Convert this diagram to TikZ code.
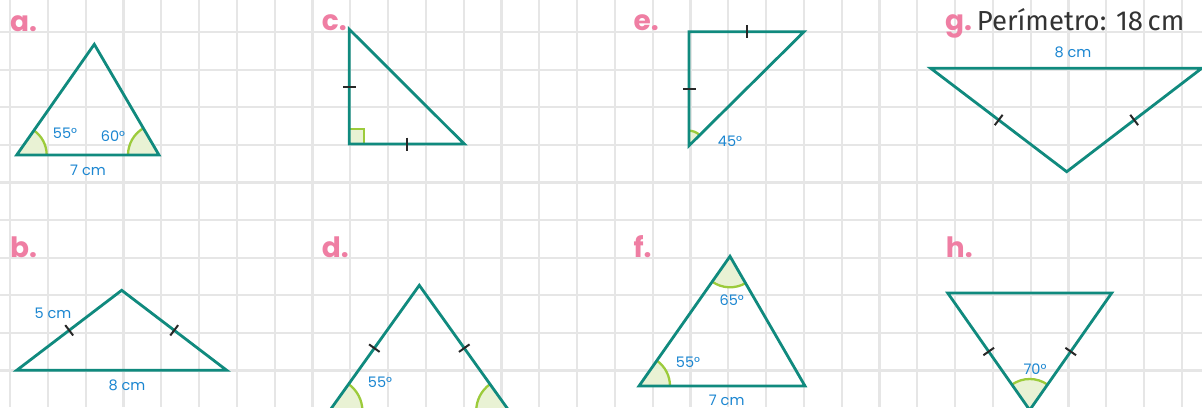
\documentclass[tikz,border=0pt]{standalone}
\usepackage{fontspec}
\setmainfont{Poppins}
\newfontfamily\perfont{Fira Sans}
\usetikzlibrary{calc,angles}
\definecolor{tealline}{RGB}{16,138,126}
\definecolor{arcgreen}{RGB}{156,203,59}
\definecolor{arcfill}{RGB}{233,242,212}
\definecolor{lblblue}{RGB}{27,134,209}
\definecolor{lblpink}{RGB}{239,126,163}
\definecolor{tickgray}{RGB}{40,40,40}
\definecolor{gridgray}{RGB}{230,230,230}
\tikzset{
  gridline/.style={draw=gridgray, line width=2.2pt},
  tri/.style={draw=tealline, line width=2.8pt},
  anglemark/.style={draw=arcgreen, fill=arcfill, line width=2.3pt},
  tickmark/.style={draw=tickgray, line width=2pt},
  meas/.style={text=lblblue, font=\fontsize{14.5}{14.5}\selectfont, inner sep=0pt},
  letter/.style={text=lblpink, font=\fontsize{28}{28}\selectfont\bfseries, inner sep=0pt, anchor=base west},
}
\newcommand\sidetick[2]{\draw[tickmark] ($(#1)!0.5!(#2)!6.5pt!90:(#2)$) -- ($(#1)!0.5!(#2)!6.5pt!-90:(#2)$);}
\begin{document}
\begin{tikzpicture}[x=1pt,y=-1pt]
\useasboundingbox (0,0) rectangle (1202,407);
\fill[white] (0,0) rectangle (1202,407);
\begin{scope}
\clip (0,0) rectangle (1202,407);
% grid
\foreach \i in {0,...,31} \draw[gridline] ({10+37.8*\i},0) -- ({10+37.8*\i},407);
\foreach \j in {0,...,9} \draw[gridline] (0,{32+37.6*\j}) -- (1202,{32+37.6*\j});

% vertices
\coordinate (aL) at (16.7,155);  \coordinate (aR) at (159,155);   \coordinate (aT) at (94.3,44.3);
\coordinate (bL) at (16.7,370.3); \coordinate (bR) at (226.7,370.3); \coordinate (bT) at (121.7,290.3);
\coordinate (cT) at (349.3,29.3); \coordinate (cB) at (349.3,144); \coordinate (cR) at (464.3,144);
\coordinate (dT) at (419.3,285.3); \coordinate (dL) at (329.4,411); \coordinate (dR) at (509.2,411);
\coordinate (eA) at (689,31.7);   \coordinate (eB) at (804,31.7);   \coordinate (eC) at (689,145.7);
\coordinate (fT) at (730,256.3);  \coordinate (fL) at (639,386);    \coordinate (fR) at (805,386);
\coordinate (gL) at (930.7,68.3); \coordinate (gR) at (1201.7,68.3); \coordinate (gB) at (1066.7,171.7);
\coordinate (hL) at (947.7,293);  \coordinate (hR) at (1111.7,293); \coordinate (hB) at (1029.7,410);

% angle marks
\pic[anglemark, angle radius=30pt] {angle = aR--aL--aT};
\pic[anglemark, angle radius=31pt] {angle = aT--aR--aL};
\fill[arcfill, draw=arcgreen, line width=2.3pt] (cB) rectangle ($(cB)+(15,-15)$);
\pic[anglemark, angle radius=33pt] {angle = dR--dL--dT};
\pic[anglemark, angle radius=33pt] {angle = dT--dR--dL};
\pic[anglemark, angle radius=15pt] {angle = eB--eC--eA};
\pic[anglemark, angle radius=31pt] {angle = fL--fT--fR};
\pic[anglemark, angle radius=31pt] {angle = fR--fL--fT};
\pic[anglemark, angle radius=31pt] {angle = hR--hB--hL};

% triangles
\draw[tri] (aL) -- (aR) -- (aT) -- cycle;
\draw[tri] (bL) -- (bR) -- (bT) -- cycle;
\draw[tri] (cT) -- (cB) -- (cR) -- cycle;
\draw[tri] (dT) -- (dL) -- (dR) -- cycle;
\draw[tri] (eA) -- (eB) -- (eC) -- cycle;
\draw[tri] (fT) -- (fL) -- (fR) -- cycle;
\draw[tri] (gL) -- (gR) -- (gB) -- cycle;
\draw[tri] (hL) -- (hR) -- (hB) -- cycle;

% ticks
\sidetick{bL}{bT} \sidetick{bT}{bR}
\sidetick{cT}{cB} \sidetick{cB}{cR}
\draw[tickmark] ($(dT)!0.5!(dL)!6.5pt!90:(dL)$) -- ($(dT)!0.5!(dL)!6.5pt!-90:(dL)$);
\draw[tickmark] ($(dT)!0.5!(dR)!6.5pt!90:(dR)$) -- ($(dT)!0.5!(dR)!6.5pt!-90:(dR)$);
\sidetick{eA}{eB} \sidetick{eA}{eC}
\sidetick{gL}{gB} \sidetick{gB}{gR}
\sidetick{hL}{hB} \sidetick{hB}{hR}

% measurement labels
\node[meas] (a55) at (65,133) {55°};
\node[meas] (a60) at (113,136) {60°};
\node[meas] (a7) at (88,170) {7 cm};
\node[meas] (b5) at (53,313) {5 cm};
\node[meas] (b8) at (127,385) {8 cm};
\node[meas] (d55) at (380,382) {55°};
\node[meas] (e45) at (730,141.7) {45°};
\node[meas] (f65) at (731.7,300.3) {65°};
\node[meas] (f55) at (688,362) {55°};
\node[meas] (f7) at (726.7,400.3) {7 cm};
\node[meas] (g8) at (1073,52.7) {8 cm};
\node[meas] (h70) at (1035,368.7) {70°};

% letters
\node[letter] (la) at (10,31) {a.};
\node[letter] (lb) at (10,257) {b.};
\node[letter] (lc) at (321.7,30) {c.};
\node[letter] (ld) at (321.7,257) {d.};
\node[letter] (le) at (633.3,30) {e.};
\node[letter] (lf) at (633.3,257) {f.};
\node[letter] (lg) at (945,30) {g.};
\node[letter] (lh) at (945.7,257) {h.};
\node[anchor=base west, inner sep=0pt, text={rgb,255:red,51;green,51;blue,51}, font=\perfont\fontsize{27.5}{27.5}\selectfont] (per) at (976.7,30) {Perímetro: 18\,cm};
\end{scope}
\end{tikzpicture}
\end{document}
